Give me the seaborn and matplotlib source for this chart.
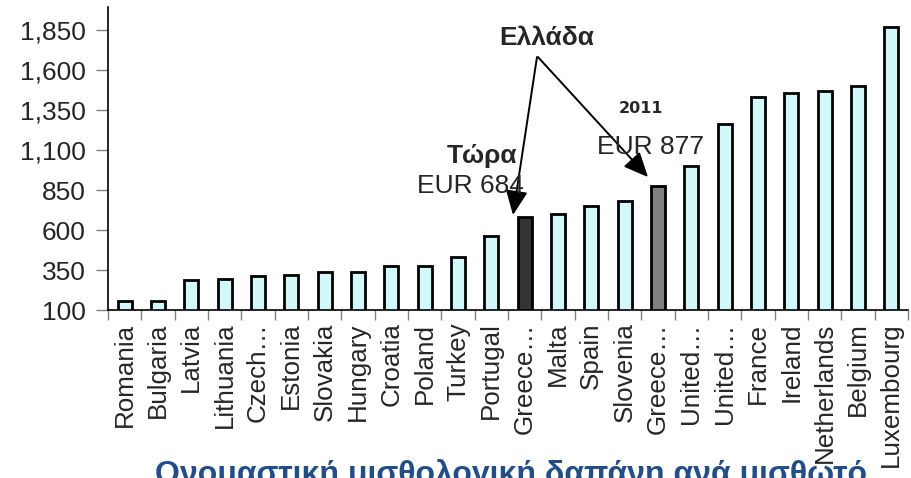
import numpy as np
import pandas as pd
import matplotlib
matplotlib.use("Agg")
import matplotlib.pyplot as plt
import seaborn as sns
from matplotlib.ticker import FixedLocator, FuncFormatter
from matplotlib.patches import ArrowStyle

# ---- data ----
keys = ["Romania", "Bulgaria", "Latvia", "Lithuania", "Czech Republic", "Estonia",
        "Slovakia", "Hungary", "Croatia", "Poland", "Turkey", "Portugal",
        "Greece (now)", "Malta", "Spain", "Slovenia", "Greece (2011)",
        "United Kingdom", "United States", "France", "Ireland", "Netherlands",
        "Belgium", "Luxembourg"]
tick_labels = ["Romania", "Bulgaria", "Latvia", "Lithuania", "Czech…", "Estonia",
               "Slovakia", "Hungary", "Croatia", "Poland", "Turkey", "Portugal",
               "Greece…", "Malta", "Spain", "Slovenia", "Greece…",
               "United…", "United…", "France", "Ireland", "Netherlands",
               "Belgium", "Luxembourg"]
values = [156, 157, 288, 292, 312, 319, 337, 340, 375, 377, 429, 564,
          684, 698, 750, 781, 877, 1000, 1260, 1429, 1458, 1469, 1500, 1871]
y_ticks = [100, 350, 600, 850, 1100, 1350, 1600, 1850]

base_color = "#CCFFFF"
highlight = {"Greece (now)": "#333333", "Greece (2011)": "#808080"}
palette = {k: highlight.get(k, base_color) for k in keys}

df = pd.DataFrame({"country": keys, "value": values})

sns.set_style("white")
plt.rcParams["font.family"] = ["Liberation Sans", "DejaVu Sans"]

fig = plt.figure(figsize=(9.11, 4.78), dpi=100)
ax = fig.add_axes([108 / 911, 1 - 310 / 478, 800 / 911, 303 / 478])

sns.barplot(data=df, x="country", y="value", hue="country", palette=palette,
            order=keys, hue_order=keys, width=0.42, edgecolor="black",
            linewidth=2, legend=False, ax=ax)

ax.set_ylim(100, 1994)
ax.set_xlim(-0.5, len(keys) - 0.5)
ax.set_xlabel("")
ax.set_ylabel("")

ax.yaxis.set_major_locator(FixedLocator(y_ticks))
ax.yaxis.set_major_formatter(FuncFormatter(lambda v, p: f"{int(v):,}"))
ax.tick_params(axis="y", which="major", length=9, width=1, color="#808080",
               labelsize=19, pad=7, left=True)

ax.set_xticks(range(len(keys)))
ax.set_xticklabels(tick_labels, rotation=90, fontsize=18.7)
ax.set_xticks(np.arange(-0.5, len(keys), 1), minor=True)
ax.tick_params(axis="x", which="major", length=0, pad=9)
ax.tick_params(axis="x", which="minor", length=7, width=1, color="#808080", bottom=True)

for s in ["top", "right"]:
    ax.spines[s].set_visible(False)
for s in ["left", "bottom"]:
    ax.spines[s].set_color("black")
    ax.spines[s].set_linewidth(1.2)

# ---- annotations ----
i_now = keys.index("Greece (now)")
i_2011 = keys.index("Greece (2011)")
style = ArrowStyle("-|>", head_length=1.0, head_width=0.45)
ax.annotate("", xy=(i_now - 0.35, values[i_now] + 10), xytext=(i_now + 0.37, 1681),
            arrowprops=dict(arrowstyle=style, mutation_scale=15, color="black", lw=1.4,
                            shrinkA=0, shrinkB=0))
ax.annotate("", xy=(i_2011 - 0.3, values[i_2011] + 54), xytext=(i_now + 0.4, 1681),
            arrowprops=dict(arrowstyle=style, mutation_scale=15, color="black", lw=1.4,
                            shrinkA=0, shrinkB=0))

ax.text(i_now + 0.67, 1756, "Ελλάδα", ha="center", va="baseline", fontsize=19,
        fontweight="bold")
ax.text(10.72, 1019, "Τώρα", ha="center", va="baseline", fontsize=19, fontweight="bold")
ax.text(10.375, 831, "EUR 684", ha="center", va="baseline", fontsize=19)
ax.text(15.49, 1331, "2011", ha="center", va="baseline", fontsize=11.5,
        fontweight="bold", family="DejaVu Sans")
ax.text(15.79, 1075, "EUR 877", ha="center", va="baseline", fontsize=19)

fig.text(155 / 911, 1 - 459 / 478, "Ονομαστική μισθολογική δαπάνη ανά μισθωτό",
         ha="left", va="top", fontsize=23, fontweight="bold", color="#1F4E8A")

fig.savefig("out.png", dpi=100)
